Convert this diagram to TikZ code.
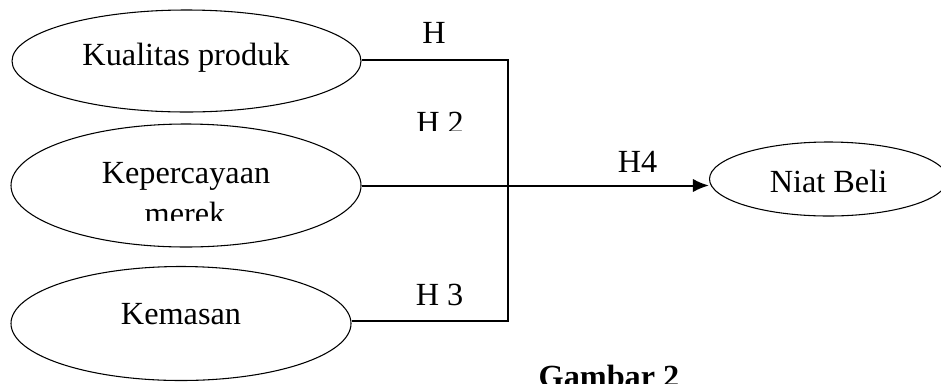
\documentclass[tikz,border=0pt]{standalone}
\usepackage{fontspec}
\setmainfont{Liberation Serif}
\usetikzlibrary{shapes.geometric,arrows.meta}
\begin{document}
\begin{tikzpicture}[x=0.75pt,y=-0.75pt,
  var/.style={draw,ellipse,line width=0.8pt,inner sep=0pt},
  txt/.style={anchor=base,inner sep=0pt,font=\fontsize{24.2}{29}\selectfont},
  link/.style={line width=1.5pt}]
\useasboundingbox (0,0) rectangle (941,383);
\begin{scope}
\clip (0,0) rectangle (941,383);

% variables
\node[var,minimum width=349pt*0.75,minimum height=102pt*0.75] (kp) at (186.5,61) {};
\node[var,minimum width=350pt*0.75,minimum height=123pt*0.75] (km) at (186,185.5) {};
\node[var,minimum width=340pt*0.75,minimum height=114pt*0.75] (ks) at (181,323.5) {};
\node[var,minimum width=238pt*0.75,minimum height=74pt*0.75] (nb) at (828.5,179) {};

% variable names
\node[txt] (tkp) at (186,65) {Kualitas produk};
\node[txt] (tkm) at (186,183) {Kepercayaan};
\begin{scope}
  \clip (100,195) rectangle (270,220);
  \node[txt] (tmr) at (185,224) {merek};
\end{scope}
\node[txt] (tks) at (181,324) {Kemasan};
\node[txt] (tnb) at (828.5,192) {Niat Beli};

% joining lines
\coordinate (j1) at (507.5,60);
\coordinate (j3) at (507.5,321);
\draw[link] (kp.east |- j1) -- (j1) -- (j3) -- (ks.east |- j3);
\draw[link,-{Latex[length=12pt,width=10pt]}] (km.east) -- (km.east -| nb.west);

% hypothesis labels
\node[txt] (h1) at (434,43) {H};
\begin{scope}
  \clip (400,100) rectangle (490,130);
  \node[txt] (h2) at (440,133) {H 2};
\end{scope}
\node[txt] (h4) at (637.5,172) {H4};
\node[txt] (h3) at (439.5,305) {H 3};

% caption
\node[txt,font=\fontsize{24.2}{29}\selectfont\bfseries] (cap) at (609,387) {Gambar 2};
\end{scope}
\end{tikzpicture}
\end{document}
